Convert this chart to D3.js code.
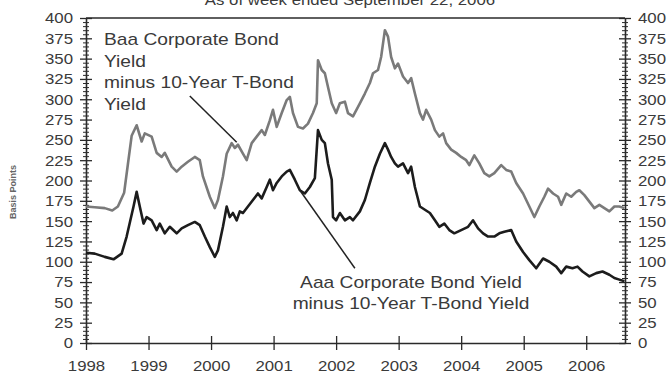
<!DOCTYPE html>
<html>
<head>
<meta charset="utf-8">
<script src="https://cdn.jsdelivr.net/npm/d3@7"></script>
<style>
  body { margin: 0; background: #fff; }
  svg { display: block; }
</style>
</head>
<body>
<svg id="chart" width="672" height="375"></svg>
<script>
// Baa corporate bond yield minus 10-year T-bond yield (basis points)
const baaYears = [1998.00, 1998.14, 1998.30, 1998.42, 1998.51, 1998.61, 1998.67, 1998.73, 1998.81, 1998.89,
  1998.94, 1999.05, 1999.13, 1999.21, 1999.26, 1999.37, 1999.45, 1999.53, 1999.63, 1999.74,
  1999.82, 1999.87, 1999.98, 2000.06, 2000.11, 2000.19, 2000.25, 2000.33, 2000.38, 2000.43,
  2000.51, 2000.57, 2000.65, 2000.73, 2000.81, 2000.86, 2000.94, 2000.99, 2001.05, 2001.13,
  2001.21, 2001.26, 2001.31, 2001.39, 2001.47, 2001.55, 2001.63, 2001.69, 2001.71, 2001.77,
  2001.82, 2001.87, 2001.93, 2002.00, 2002.06, 2002.14, 2002.19, 2002.27, 2002.38, 2002.46,
  2002.54, 2002.59, 2002.67, 2002.72, 2002.78, 2002.83, 2002.88, 2002.94, 2002.99, 2003.07,
  2003.15, 2003.20, 2003.26, 2003.34, 2003.39, 2003.44, 2003.52, 2003.58, 2003.65, 2003.71,
  2003.76, 2003.84, 2003.92, 2004.00, 2004.08, 2004.13, 2004.21, 2004.29, 2004.37, 2004.45,
  2004.53, 2004.64, 2004.72, 2004.80, 2004.88, 2004.99, 2005.09, 2005.17, 2005.25, 2005.33,
  2005.39, 2005.47, 2005.55, 2005.60, 2005.68, 2005.76, 2005.84, 2005.89, 2005.97, 2006.05,
  2006.13, 2006.21, 2006.29, 2006.37, 2006.45, 2006.53, 2006.61];
const baaSpread = [168, 167, 166, 163, 168, 185, 220, 255, 268, 248,
  258, 254, 234, 229, 234, 217, 211, 217, 223, 229,
  225, 205, 180, 166, 176, 205, 233, 246, 240, 244,
  233, 225, 246, 254, 262, 256, 274, 287, 266, 283,
  299, 303, 283, 266, 264, 270, 283, 295, 348, 336,
  332, 315, 295, 283, 295, 297, 283, 279, 295, 307,
  320, 332, 336, 352, 385, 377, 352, 338, 344, 328,
  320, 326, 307, 283, 275, 287, 275, 262, 254, 258,
  246, 238, 234, 229, 225, 219, 231, 221, 209, 205,
  209, 219, 213, 211, 197, 184, 168, 155, 168, 180,
  190, 184, 180, 170, 184, 180, 186, 188, 182, 174,
  166, 170, 166, 162, 168, 168, 166];

// Aaa corporate bond yield minus 10-year T-bond yield (basis points)
const aaaYears = [1998.00, 1998.14, 1998.30, 1998.44, 1998.57, 1998.65, 1998.76, 1998.81, 1998.86, 1998.92,
  1998.97, 1999.05, 1999.13, 1999.18, 1999.26, 1999.34, 1999.45, 1999.53, 1999.63, 1999.74,
  1999.82, 1999.90, 1999.98, 2000.06, 2000.11, 2000.19, 2000.25, 2000.30, 2000.35, 2000.41,
  2000.46, 2000.51, 2000.59, 2000.67, 2000.75, 2000.81, 2000.89, 2000.94, 2000.99, 2001.05,
  2001.13, 2001.21, 2001.26, 2001.34, 2001.42, 2001.50, 2001.58, 2001.66, 2001.71, 2001.77,
  2001.82, 2001.87, 2001.93, 2001.95, 2002.00, 2002.06, 2002.14, 2002.22, 2002.27, 2002.38,
  2002.46, 2002.54, 2002.62, 2002.70, 2002.78, 2002.83, 2002.88, 2002.94, 2002.99, 2003.07,
  2003.15, 2003.20, 2003.26, 2003.34, 2003.42, 2003.50, 2003.58, 2003.65, 2003.73, 2003.81,
  2003.89, 2004.00, 2004.11, 2004.19, 2004.27, 2004.35, 2004.43, 2004.53, 2004.61, 2004.69,
  2004.80, 2004.88, 2004.99, 2005.09, 2005.20, 2005.31, 2005.41, 2005.52, 2005.60, 2005.68,
  2005.78, 2005.86, 2005.94, 2006.05, 2006.16, 2006.26, 2006.37, 2006.45, 2006.53, 2006.61];
const aaaSpread = [111, 110, 106, 103, 110, 131, 168, 186, 168, 147,
  155, 151, 139, 147, 135, 143, 135, 141, 145, 149,
  145, 131, 118, 106, 114, 143, 168, 155, 160, 151,
  162, 160, 168, 176, 184, 178, 192, 201, 188, 197,
  205, 211, 213, 201, 188, 184, 192, 203, 262, 250,
  246, 221, 201, 155, 151, 160, 151, 155, 151, 162,
  176, 197, 217, 233, 246, 238, 229, 221, 217, 221,
  209, 217, 192, 168, 164, 160, 151, 143, 147, 139,
  135, 139, 143, 151, 141, 135, 131, 131, 135, 137,
  139, 125, 112, 102, 92, 104, 100, 94, 86, 94,
  92, 94, 88, 82, 86, 88, 84, 80, 78, 76];

const yearTicks = [1998, 1999, 2000, 2001, 2002, 2003, 2004, 2005, 2006];
const yTicks = [0, 25, 50, 75, 100, 125, 150, 175, 200, 225, 250, 275, 300, 325, 350, 375, 400];

const font = '"Liberation Sans", Arial, sans-serif';
const ink = "#2a2a2a";
const sx = 1.2; // the scanned original is stretched sideways

const svg = d3.select("#chart");

const x = d3.scaleLinear().domain([1998, 2006.62]).range([86, 625]);
const y = d3.scaleLinear().domain([0, 400]).range([343, 18]);

const minorTicks = d3.range(0, 401, 5).filter(v => v % 25 !== 0);

// vertical axes: ruler ticks crossing the line on both sides
function drawYAxis(px, axisFn, dir) {
  const gMinor = svg.append("g")
    .attr("transform", `translate(${px},0)`)
    .call(axisFn(y).tickValues(minorTicks).tickSize(3).tickSizeOuter(0).tickFormat(""));
  gMinor.selectAll(".tick line").attr("x1", -dir * 3).attr("stroke", ink);
  gMinor.select(".domain").remove();

  const gMajor = svg.append("g")
    .attr("transform", `translate(${px},0)`)
    .call(axisFn(y).tickValues(yTicks).tickSize(6).tickSizeOuter(0));
  gMajor.selectAll(".tick line").attr("x1", -dir * 6).attr("stroke", ink).attr("stroke-width", 1.3);
  gMajor.select(".domain").attr("stroke", ink).attr("stroke-width", 1.6);
  gMajor.selectAll(".tick text")
    .attr("x", null)
    .attr("dy", "0.35em")
    .attr("transform", `translate(${dir * 13},0) scale(${sx},1)`)
    .attr("font-family", font)
    .attr("font-size", 14)
    .attr("fill", "#3a3a3a");
}
drawYAxis(x.range()[0], d3.axisLeft, -1);
drawYAxis(x.range()[1], d3.axisRight, 1);

// top frame line
svg.append("line")
  .attr("x1", x.range()[0]).attr("x2", x.range()[1])
  .attr("y1", y(400)).attr("y2", y(400))
  .attr("stroke", ink).attr("stroke-width", 1.6);

// bottom axis
const gx = svg.append("g")
  .attr("transform", `translate(0,${y(0)})`)
  .call(d3.axisBottom(x).tickValues(yearTicks).tickFormat(d3.format("d")).tickSize(7).tickSizeOuter(0));
gx.select(".domain").attr("stroke", ink).attr("stroke-width", 1.6);
gx.selectAll(".tick line").attr("y1", -7).attr("stroke", ink).attr("stroke-width", 1.3);
gx.selectAll(".tick text")
  .attr("y", null).attr("dy", null)
  .attr("transform", `translate(0,28) scale(${sx},1)`)
  .attr("font-family", font)
  .attr("font-size", 14)
  .attr("fill", "#3a3a3a");

// title, clipped at the top edge as in the original
svg.append("text")
  .attr("transform", `translate(350,5) scale(${sx},1)`)
  .attr("text-anchor", "middle")
  .attr("font-family", font).attr("font-size", 14).attr("fill", "#3a3a3a")
  .text("As of week ended September 22, 2006");

// y axis label
svg.append("text")
  .attr("transform", "translate(16,192) rotate(-90)")
  .attr("text-anchor", "middle")
  .attr("font-family", font).attr("font-size", 9).attr("font-weight", "bold").attr("fill", "#666")
  .text("Basis Points");

// series
const line = d3.line().x(d => x(d[0])).y(d => y(d[1]));

svg.append("path")
  .datum(d3.zip(baaYears, baaSpread))
  .attr("d", line)
  .attr("fill", "none").attr("stroke", "#7a7a7a").attr("stroke-width", 2.6)
  .attr("stroke-linejoin", "round");

svg.append("path")
  .datum(d3.zip(aaaYears, aaaSpread))
  .attr("d", line)
  .attr("fill", "none").attr("stroke", "#1c1c1c").attr("stroke-width", 2.6)
  .attr("stroke-linejoin", "round");

// annotations
const baaLabel = ["Baa Corporate Bond", "Yield", "minus 10-Year T-Bond", "Yield"];
const aaaLabel = ["Aaa Corporate Bond Yield", "minus 10-Year T-Bond Yield"];

baaLabel.forEach((t, i) => {
  svg.append("text")
    .attr("transform", `translate(104,${45 + i * 21.5}) scale(${sx},1)`)
    .attr("font-family", font).attr("font-size", 16).attr("fill", "#3a3a3a")
    .text(t);
});
aaaLabel.forEach((t, i) => {
  svg.append("text")
    .attr("transform", `translate(411,${287.5 + i * 21}) scale(${sx},1)`)
    .attr("text-anchor", "middle")
    .attr("font-family", font).attr("font-size", 16).attr("fill", "#3a3a3a")
    .text(t);
});

// leader lines, anchored in data space
const leaders = [
  [[1999.66, 304], [2000.41, 247]],
  [[2001.42, 188], [2002.30, 92]]
];
leaders.forEach(([a, b]) => {
  svg.append("line")
    .attr("x1", x(a[0])).attr("y1", y(a[1]))
    .attr("x2", x(b[0])).attr("y2", y(b[1]))
    .attr("stroke", "#222").attr("stroke-width", 1.5);
});
</script>
</body>
</html>
